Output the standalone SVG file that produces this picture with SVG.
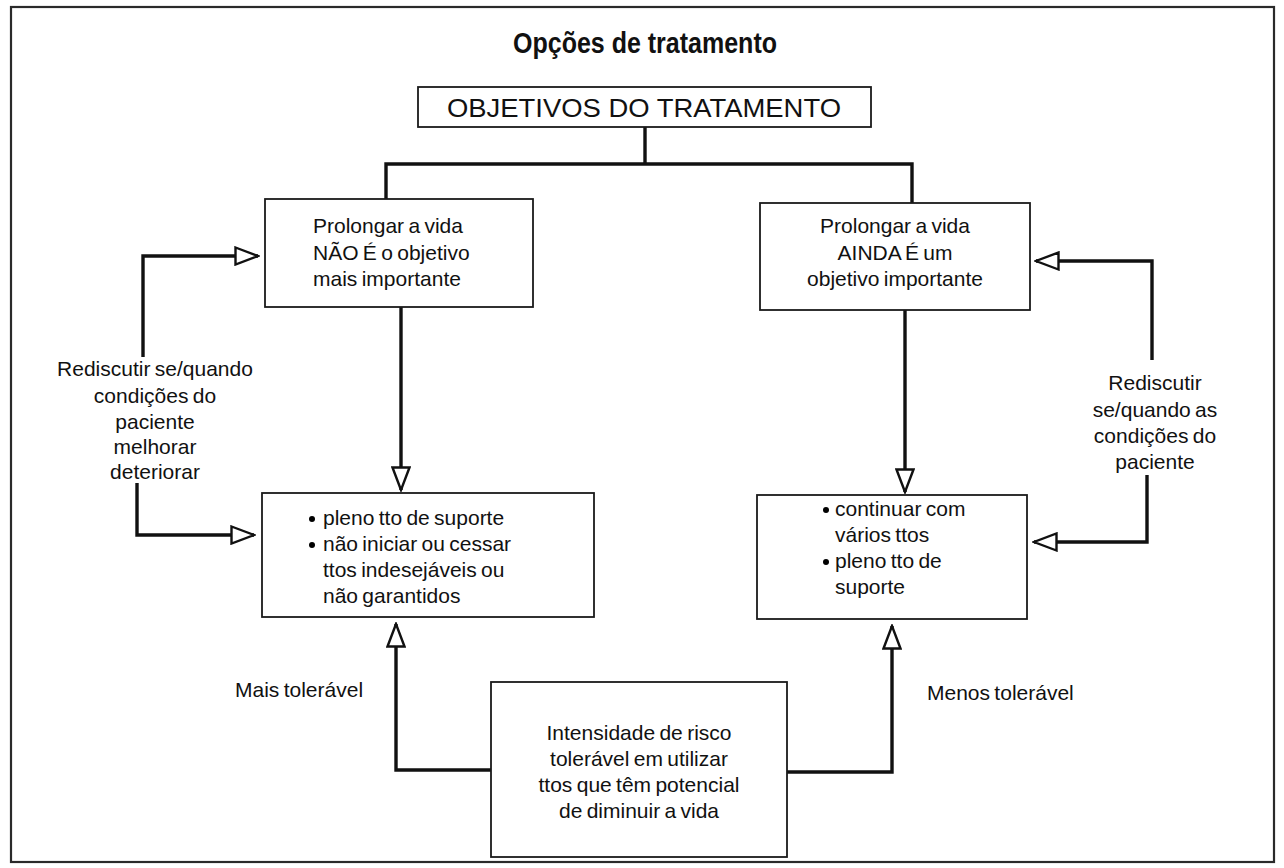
<svg xmlns="http://www.w3.org/2000/svg" width="1284" height="868" viewBox="0 0 1284 868">
  <style>
    .box { fill: #fff; stroke: #1a1a1a; stroke-width: 1.8; }
    .frame { fill: none; stroke: #2a2a2a; stroke-width: 2.2; }
    .wire { fill: none; stroke: #111; stroke-width: 3.4; stroke-linejoin: miter; }
    .t { font-family: "Liberation Sans", Arial, sans-serif; font-size: 21px; word-spacing: -1.5px; fill: #111; }
    .c { text-anchor: middle; }
    .title { font-family: "Liberation Sans", Arial, sans-serif; font-weight: bold; font-size: 29px; fill: #111; text-anchor: middle; }
    .head { font-family: "Liberation Sans", Arial, sans-serif; font-size: 26px; fill: #111; text-anchor: middle; }
  </style>
  <defs>
    <marker id="open" viewBox="0 0 26 20" refX="24" refY="10" markerWidth="26" markerHeight="20" markerUnits="userSpaceOnUse" orient="auto">
      <path d="M1.5,1.5 L24,10 L1.5,18.5 Z" fill="#fff" stroke="#111" stroke-width="2.4" stroke-linejoin="miter"/>
    </marker>
  </defs>

  <rect x="0" y="0" width="1284" height="868" fill="#fff"/>
  <rect class="frame" x="11" y="7" width="1263" height="855"/>

  <text class="title" x="645" y="53" textLength="264" lengthAdjust="spacingAndGlyphs">Opções de tratamento</text>

  <!-- connectors -->
  <g id="connectors">
    <path class="wire" d="M645,127 V164 M386,202 V164 H912 V204"/>
    <path class="wire" d="M401,307 V490" marker-end="url(#open)"/>
    <path class="wire" d="M905,310 V492" marker-end="url(#open)"/>
    <path class="wire" d="M143,357 V256 H258" marker-end="url(#open)"/>
    <path class="wire" d="M137,483 V535 H254" marker-end="url(#open)"/>
    <path class="wire" d="M1152,360 V261 H1036" marker-end="url(#open)"/>
    <path class="wire" d="M1147,475 V542 H1034" marker-end="url(#open)"/>
    <path class="wire" d="M491,770 H396 V624" marker-end="url(#open)"/>
    <path class="wire" d="M787,772 H892 V626" marker-end="url(#open)"/>
  </g>

  <g id="objetivos">
    <rect class="box" x="418" y="87" width="453" height="40"/>
    <text class="head" x="644" y="117" textLength="394" lengthAdjust="spacingAndGlyphs">OBJETIVOS DO TRATAMENTO</text>
  </g>

  <g id="nao-e">
    <rect class="box" x="265" y="199" width="268" height="108"/>
    <text class="t" x="313" y="233">Prolongar a vida</text>
    <text class="t" x="313" y="260">NÃO É o objetivo</text>
    <text class="t" x="313" y="286">mais importante</text>
  </g>

  <g id="ainda-e">
    <rect class="box" x="760" y="203" width="270" height="107"/>
    <text class="t c" x="895" y="233">Prolongar a vida</text>
    <text class="t c" x="895" y="260">AINDA É um</text>
    <text class="t c" x="895" y="286">objetivo importante</text>
  </g>

  <g id="suporte-esq">
    <rect class="box" x="262" y="493" width="332" height="124"/>
    <circle cx="312" cy="519" r="3"/>
    <text class="t" x="323" y="525">pleno tto de suporte</text>
    <circle cx="312" cy="545" r="3"/>
    <text class="t" x="323" y="551">não iniciar ou cessar</text>
    <text class="t" x="323" y="577">ttos indesejáveis ou</text>
    <text class="t" x="323" y="603">não garantidos</text>
  </g>

  <g id="suporte-dir">
    <rect class="box" x="757" y="495" width="270" height="124"/>
    <circle cx="826" cy="510" r="3"/>
    <text class="t" x="835" y="516">continuar com</text>
    <text class="t" x="835" y="542">vários ttos</text>
    <circle cx="826" cy="562" r="3"/>
    <text class="t" x="835" y="568">pleno tto de</text>
    <text class="t" x="835" y="594">suporte</text>
  </g>

  <g id="intensidade">
    <rect class="box" x="491" y="682" width="296" height="175"/>
    <text class="t c" x="639" y="740">Intensidade de risco</text>
    <text class="t c" x="639" y="766">tolerável em utilizar</text>
    <text class="t c" x="639" y="792">ttos que têm potencial</text>
    <text class="t c" x="639" y="818">de diminuir a vida</text>
  </g>

  <g id="rediscutir-esq">
    <text class="t c" x="155" y="376">Rediscutir se/quando</text>
    <text class="t c" x="155" y="403">condições do</text>
    <text class="t c" x="155" y="429">paciente</text>
    <text class="t c" x="155" y="454">melhorar</text>
    <text class="t c" x="155" y="479">deteriorar</text>
  </g>

  <g id="rediscutir-dir">
    <text class="t c" x="1155" y="390">Rediscutir</text>
    <text class="t c" x="1155" y="417">se/quando as</text>
    <text class="t c" x="1155" y="443">condições do</text>
    <text class="t c" x="1155" y="469">paciente</text>
  </g>

  <g id="tolerancia">
    <text class="t" x="235" y="697">Mais tolerável</text>
    <text class="t" x="927" y="700">Menos tolerável</text>
  </g>
</svg>
